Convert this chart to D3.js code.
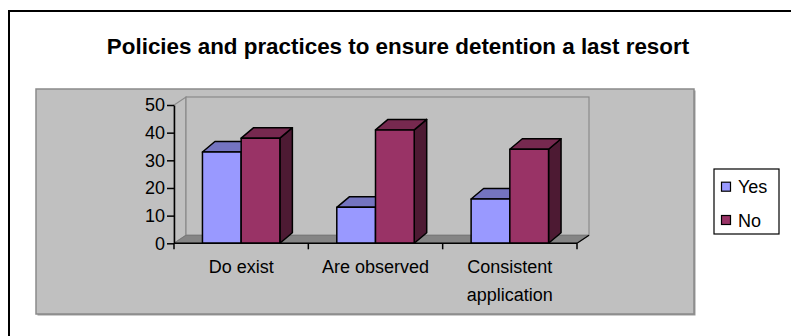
<!DOCTYPE html>
<html>
<head>
<meta charset="utf-8">
<script src="https://cdn.jsdelivr.net/npm/d3@7"></script>
<style>
  body { margin: 0; background: #fff; }
  text { font-family: "Liberation Sans", Arial, sans-serif; fill: #000; }
</style>
</head>
<body>
<svg id="chart" width="791" height="336"></svg>
<script>
// Data
const categories = ["Do exist", "Are observed", "Consistent application"];
const seriesNames = ["Yes", "No"];
const yesValues = [33, 13, 16];
const noValues = [38, 41, 34];
const yTicks = [0, 10, 20, 30, 40, 50];
const titleText = "Policies and practices to ensure detention a last resort";

const seriesColors = {
  Yes: { front: "#9999FF", top: "#7474C0", side: "#4D4D80" },
  No:  { front: "#993366", top: "#76294F", side: "#4D1A33" }
};

const rows = categories.map((c, i) => ({ category: c, Yes: yesValues[i], No: noValues[i] }));

const svg = d3.select("#chart");

// Outer frame (runs past the right and bottom edges)
svg.append("rect")
  .attr("x", 9).attr("y", 11).attr("width", 800).attr("height", 340)
  .attr("fill", "#fff").attr("stroke", "#000").attr("stroke-width", 2);

// Title
svg.append("text")
  .attr("x", 398).attr("y", 53.5)
  .attr("text-anchor", "middle")
  .attr("font-size", 22.4).attr("font-weight", "bold")
  .text(titleText);

// Plot area panel
const panel = { x: 36, y: 89, w: 658, h: 225 };
svg.append("rect")
  .attr("x", panel.x + 1.5).attr("y", panel.y + 1.5)
  .attr("width", panel.w).attr("height", panel.h)
  .attr("fill", "#999");
svg.append("rect")
  .attr("x", panel.x).attr("y", panel.y)
  .attr("width", panel.w).attr("height", panel.h)
  .attr("fill", "#C0C0C0").attr("stroke", "#8a8a8a").attr("stroke-width", 1.5);

// Scales
const x0 = 174, x1 = 577;
const x = d3.scaleBand().domain(categories).range([x0, x1]).paddingInner(0).paddingOuter(0);
const xs = d3.scaleBand().domain(seriesNames).range([0, x.bandwidth()]).paddingInner(0).paddingOuter(0.735);
const y = d3.scaleLinear().domain([0, 50]).range([243.3, 105]);

// 3D offsets
const wall = { dx: 12, dy: -8 };
const depth = { dx: 12.5, dy: -10.5 };

const poly = pts => pts.map(p => p.join(",")).join(" ");
const yTop = y(d3.max(yTicks)), yBase = y(0);

// Side wall
svg.append("polygon")
  .attr("points", poly([[x0, yBase], [x0, yTop], [x0 + wall.dx, yTop + wall.dy], [x0 + wall.dx, yBase + wall.dy]]))
  .attr("fill", "#C0C0C0").attr("stroke", "#8a8a8a").attr("stroke-width", 1.2);
// Back wall
svg.append("rect")
  .attr("x", x0 + wall.dx).attr("y", yTop + wall.dy)
  .attr("width", x1 - x0).attr("height", yBase - yTop)
  .attr("fill", "#C0C0C0").attr("stroke", "#8a8a8a").attr("stroke-width", 1.2);
// Floor
svg.append("polygon")
  .attr("points", poly([[x0, yBase], [x1, yBase], [x1 + wall.dx, yBase + wall.dy], [x0 + wall.dx, yBase + wall.dy]]))
  .attr("fill", "#858585").attr("stroke", "#777").attr("stroke-width", 1);
// Floor right edge
svg.append("line")
  .attr("x1", x1).attr("y1", yBase).attr("x2", x1 + wall.dx).attr("y2", yBase + wall.dy)
  .attr("stroke", "#000").attr("stroke-width", 1.2);

// Bars
const barG = svg.append("g");
rows.forEach(r => {
  seriesNames.forEach(s => {
    const bx = x(r.category) + xs(s);
    const bw = xs.bandwidth();
    const by = y(r[s]);
    const c = seriesColors[s];
    const g = barG.append("g").attr("stroke", "#000").attr("stroke-width", 1.5).attr("stroke-linejoin", "round");
    g.append("polygon")
      .attr("points", poly([[bx + bw, yBase], [bx + bw, by], [bx + bw + depth.dx, by + depth.dy], [bx + bw + depth.dx, yBase + depth.dy]]))
      .attr("fill", c.side);
    g.append("polygon")
      .attr("points", poly([[bx, by], [bx + bw, by], [bx + bw + depth.dx, by + depth.dy], [bx + depth.dx, by + depth.dy]]))
      .attr("fill", c.top);
    g.append("rect")
      .attr("x", bx).attr("y", by).attr("width", bw).attr("height", yBase - by)
      .attr("fill", c.front);
  });
});

// Y axis
const yAxis = svg.append("g")
  .attr("transform", `translate(${x0},0)`)
  .call(d3.axisLeft(y).tickValues(yTicks).tickSize(7).tickPadding(2).tickSizeOuter(0));
yAxis.select(".domain").attr("stroke", "#000").attr("stroke-width", 1.5);
yAxis.selectAll(".tick line").attr("stroke", "#000").attr("stroke-width", 1.5);
yAxis.selectAll(".tick text").attr("font-size", 18).attr("font-family", "Liberation Sans, Arial, sans-serif").attr("fill", "#000");

// X axis: ticks at category boundaries
const xAxisG = svg.append("g");
xAxisG.append("line")
  .attr("x1", x0).attr("x2", x1).attr("y1", yBase).attr("y2", yBase)
  .attr("stroke", "#000").attr("stroke-width", 1.5);
const boundaries = categories.map(c => x(c)).concat([x1]);
xAxisG.selectAll("line.b").data(boundaries).join("line")
  .attr("class", "b")
  .attr("x1", d => d).attr("x2", d => d)
  .attr("y1", yBase).attr("y2", yBase + 6)
  .attr("stroke", "#000").attr("stroke-width", 1.5);

// Category labels, wrapped to the band width
const labels = xAxisG.selectAll("text.cat").data(categories).join("text")
  .attr("class", "cat")
  .attr("text-anchor", "middle")
  .attr("font-size", 18)
  .attr("x", d => x(d) + x.bandwidth() / 2)
  .attr("y", 273);
labels.each(function (d) {
  const t = d3.select(this);
  const words = d.split(" ");
  let line = [];
  let tspan = t.append("tspan").attr("x", t.attr("x")).attr("dy", 0);
  words.forEach(w => {
    line.push(w);
    tspan.text(line.join(" "));
    if (tspan.node().getComputedTextLength() > x.bandwidth() - 10 && line.length > 1) {
      line.pop();
      tspan.text(line.join(" "));
      line = [w];
      tspan = t.append("tspan").attr("x", t.attr("x")).attr("dy", 27.5).text(w);
    }
  });
});

// Legend
const legend = svg.append("g").attr("transform", "translate(714,169)");
legend.append("rect")
  .attr("width", 65).attr("height", 65)
  .attr("fill", "#fff").attr("stroke", "#000").attr("stroke-width", 1.2);
const items = legend.selectAll("g.item").data(seriesNames).join("g")
  .attr("class", "item")
  .attr("transform", (d, i) => `translate(0,${17.7 + i * 33.3})`);
items.append("rect")
  .attr("x", 7.5).attr("y", -4.5).attr("width", 9).attr("height", 9)
  .attr("fill", d => seriesColors[d].front)
  .attr("stroke", "#000").attr("stroke-width", 1.2);
items.append("text")
  .attr("x", 24).attr("y", 6.5)
  .attr("font-size", 18)
  .text(d => d);
</script>
</body>
</html>
